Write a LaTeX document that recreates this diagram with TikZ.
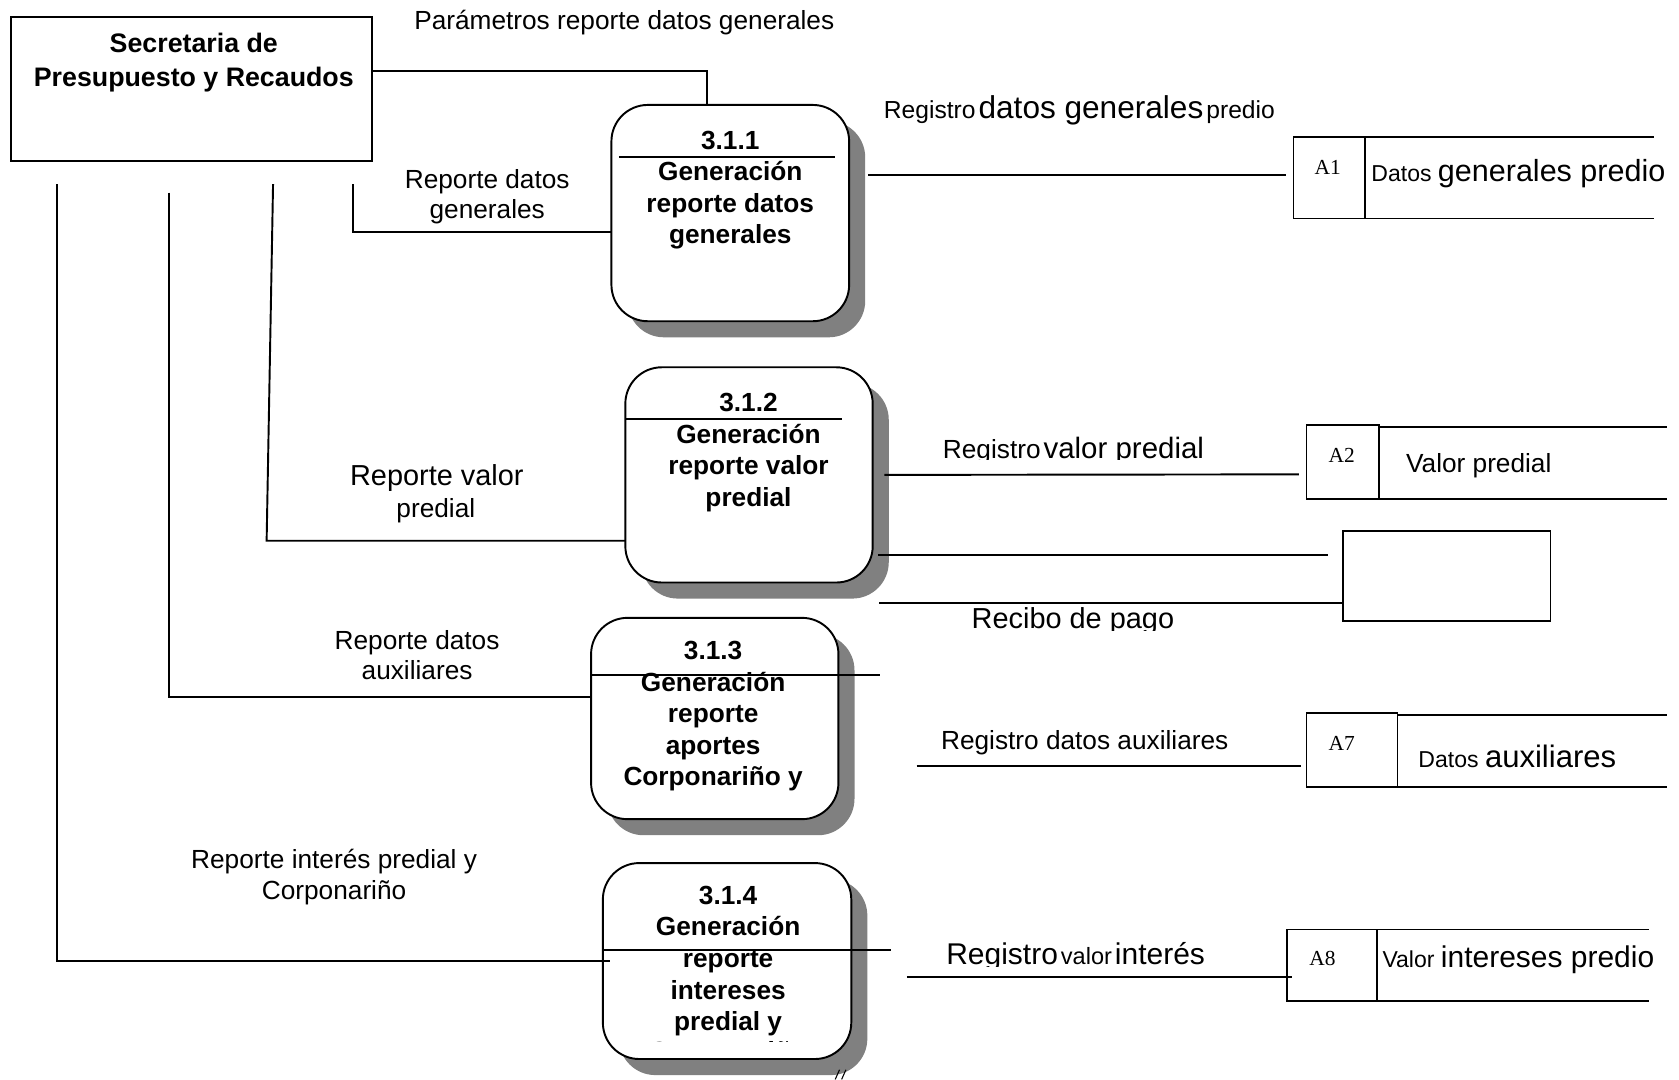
\documentclass[tikz,border=0pt]{standalone}
\usepackage{fontspec}
\setmainfont{Liberation Sans}
\newfontfamily\idfont{Liberation Serif}
\usetikzlibrary{shadows}

% font sizes used by the labels
\newcommand\fsN{\fontsize{24.5}{29.5}\selectfont}
\newcommand\fsT{\fontsize{24.5}{28.5}\selectfont}
\newcommand\fsS{\fontsize{21.5}{26}\selectfont}
\newcommand\fsL{\fontsize{28}{33}\selectfont}
\newcommand\fsB{\fontsize{25}{31}\selectfont}

\begin{document}
\begin{tikzpicture}[x=1pt,y=-1pt,line width=1.8pt,
  every node/.style={inner sep=0pt,outer sep=0pt},
  procbox/.style={draw,fill=white,rounded corners=34pt,line width=1.8pt,
    drop shadow={shadow xshift=15pt,shadow yshift=-15pt,fill=black!50,opacity=1}},
  extbox/.style={draw,rectangle,line width=1.8pt},
  idbox/.style={draw,rectangle,line width=1.6pt},
  proctext/.style={align=center,font=\bfseries\fsN},
  lbl/.style={align=center,font=\fsN},
  idlbl/.style={font=\idfont\fontsize{20}{24}\selectfont},
  flow/.style={line width=1.8pt}]

\fill[white] (0,0) rectangle (1568,1008);
\useasboundingbox (0,0) rectangle (1568,1008);

% external entity
\node[extbox,minimum width=337pt,minimum height=134pt] (sec) at (178.5,83) {};
\node[align=center,font=\bfseries\fsB] (sect) at (181,58.5) {Secretaria de\\Presupuesto y Recaudos};

% processes
\node[procbox,minimum width=222pt,minimum height=202pt] (p1) at (682,199) {};
\node[procbox,minimum width=231pt,minimum height=201pt] (p2) at (699.5,443.5) {};
\node[procbox,minimum width=231pt,minimum height=188pt] (p3) at (667.5,671) {};
\node[procbox,minimum width=232pt,minimum height=183pt] (p4) at (679,897.5) {};

\node[proctext] (t1) at (682,177.5) {3.1.1\\Generación\\reporte datos\\generales};
\node[proctext] (t2) at (699,422.5) {3.1.2\\Generación\\reporte valor\\predial};
\node[proctext] (t3) at (666,669) {3.1.3\\Generación\\reporte\\aportes\\Corponariño y};
\node[proctext] (t4) at (680,897.5) {3.1.4\\Generación\\reporte\\intereses\\predial y};
% last line of 3.1.4, cut off by its text frame
\begin{scope}
  \clip (563,806) rectangle (795,973);
  \node[proctext] (t4b) at (680,984) {Corponariño};
\end{scope}

% dividers inside the processes
\draw ([xshift=7pt,yshift=52pt]p1.west) -- ++(202,0);
\draw ([yshift=52.5pt]p2.west) -- ++(202,0);
\draw ([yshift=41pt]p3.west) -- ++(270,0);
\draw ([yshift=10.5pt]p4.west) -- ++(269,0);

% data stores
\node[idbox,minimum width=67pt,minimum height=76pt] (a1box) at (1241.5,166) {};
\node[idbox,minimum width=68pt,minimum height=69pt] (a2box) at (1254,431.5) {};
\node[idbox,minimum width=85pt,minimum height=69pt] (a7box) at (1262.5,700.5) {};
\node[idbox,minimum width=84pt,minimum height=67pt] (a8box) at (1244,901.5) {};
\node[idbox,minimum width=194pt,minimum height=84pt] (rec) at (1351,538) {};

\draw[line width=1.6pt] (a1box.north east) -- ++(270,0);
\draw[line width=1.6pt] (a1box.south west) -- ++(337,0);
\draw[line width=1.6pt] ([yshift=-2pt]a2box.north east) -- ++(269,0);
\draw[line width=1.6pt] (a2box.south west) -- ++(337,0);
\draw[line width=1.6pt] ([yshift=-2pt]a7box.north east) -- ++(252,0);
\draw[line width=1.6pt] (a7box.south west) -- ++(337,0);
\draw[line width=1.6pt] (a8box.north east) -- ++(254,0);
\draw[line width=1.6pt] (a8box.south west) -- ++(338,0);

\node[idlbl] (a1) at (1240,156) {A1};
\node[idlbl] (a2) at (1253,425) {A2};
\node[idlbl] (a7) at (1253,694) {A7};
\node[idlbl] (a8) at (1235,895) {A8};

\node (s1) at (1418,162) {\fsS Datos {\fontsize{28.5}{33}\selectfont generales predio}};
\node[lbl] (s2) at (1381,435) {Valor predial};
\node (s7) at (1417,706) {\fsS Datos {\fontsize{29}{33}\selectfont auxiliares}};
\node (s8) at (1418,896) {\fsS Valor {\fsL intereses predio}};

% free ends of the flows
\coordinate (e1) at (330,172);
\coordinate (e2) at (255,172);
\coordinate (k2) at (249,505);
\coordinate (e3) at (158,180);
\coordinate (e4) at (53,172);
\coordinate (f4) at (821,563);
\coordinate (g6) at (856,715);
\coordinate (g8) at (847,912);

% flows to and from the entity
\draw[flow] ([yshift=17pt]sec.east) -| ([xshift=-22pt]p1.north);
\draw[flow] (e1) |- ([yshift=-18pt]p1.west);
\draw[flow] (e2) -- (k2) -- ([yshift=-61.5pt]p2.west);
\draw[flow] (e3) |- ([yshift=20pt]p3.west);
\draw[flow] (e4) |- ([xshift=7pt]p4.west);

% flows to the stores
\draw[flow] ([xshift=18pt,yshift=36pt]p1.east) -- ([xshift=-7pt,yshift=3pt]a1box.west);
\draw[flow] ([xshift=11pt]p2.east) -- ([xshift=-7pt,yshift=-11.5pt]a2box.west);
\draw[flow] ([xshift=5pt,yshift=-74.5pt]p2.east) -- ([xshift=-14pt,yshift=20pt]rec.west);
\draw[flow] (f4) -- ([yshift=-25pt]rec.west);
\draw[flow] (g6) -- ([xshift=-5pt,yshift=-14.5pt]a7box.west);
\draw[flow] (g8) -- ([xshift=5pt,yshift=-10.5pt]a8box.west);

% flow labels
\node[lbl] (lpar) at (583,21) {Parámetros reporte datos generales};
\node[align=center,font=\fsT] (lrdg) at (455,183.5) {Reporte datos\\generales};
\node (lrv1) at (408,446) {\fontsize{27}{31}\selectfont Reporte valor};
\node[lbl] (lrv2) at (407,477) {predial};
\node[align=center,font=\fsT] (lrda) at (389.5,612) {Reporte datos\\auxiliares};
\node[align=center,font=\fsT] (lrip) at (312,819) {Reporte interés predial y\\Corponariño};

\node (lrg1) at (1008,103) {{\fontsize{23}{27}\selectfont Registro} {\fontsize{29.5}{34}\selectfont datos generales} {\fontsize{23}{27}\selectfont predio}};
\begin{scope}
  \clip (860,390) rectangle (1150,429);
  \node[anchor=base] (lrg2) at (1002.5,428) {{\fontsize{24.5}{29}\selectfont Registro} {\fontsize{27.5}{32}\selectfont valor predial}};
\end{scope}
\begin{scope}
  \clip (890,555) rectangle (1120,589);
  \node[anchor=base] (lrec) at (1002,587) {\fontsize{27}{31}\selectfont Recibo de pago};
\end{scope}
\node[lbl] (lrg3) at (1013,693.5) {Registro datos auxiliares};
\begin{scope}
  \clip (860,870) rectangle (1150,903);
  \node[anchor=base] (lrg4) at (1004.5,901) {{\fsL Registro} {\fontsize{22}{26}\selectfont valor} {\fsL interés}};
\end{scope}

% small strokes below the last process
\draw[line width=1pt] (780,1008) -- (784,999);
\draw[line width=1pt] (786,1008) -- (790,999);

\end{tikzpicture}
\end{document}
